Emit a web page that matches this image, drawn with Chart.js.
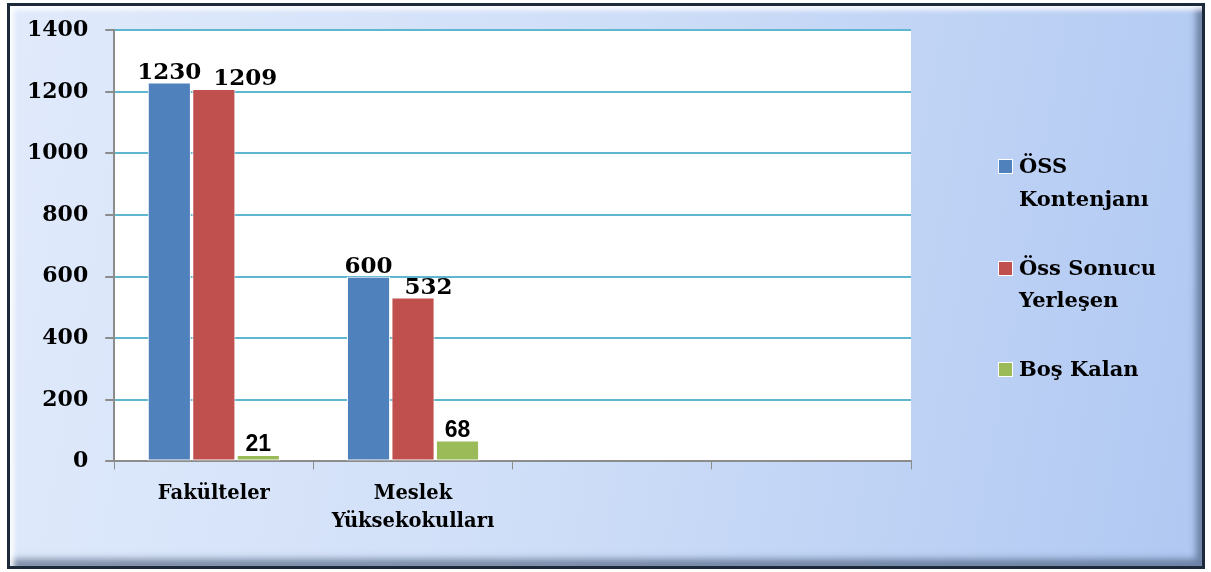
<!DOCTYPE html>
<html>
<head>
<meta charset="utf-8">
<script src="https://cdn.jsdelivr.net/npm/chart.js@4.4.0/dist/chart.umd.min.js"></script>
<style>
  html, body { margin: 0; padding: 0; background: #ffffff; }
  #wrap { position: relative; width: 1211px; height: 572px; overflow: hidden; }
  #frame {
    position: absolute; left: 7px; top: 3px; width: 1198px; height: 566px;
    box-sizing: border-box; border: 3px solid #1c2a3c;
    background: linear-gradient(100deg, #e0eafb 0%, #d0dff8 45%, #b0c8f2 100%);
    box-shadow: inset 4px 4px 5px rgba(255,255,255,0.9), inset -6px -7px 7px rgba(50,70,100,0.55);
  }
  #grafico { position: absolute; left: 0; top: 0; }
</style>
</head>
<body>
<div id="wrap">
  <div id="frame"></div>
  <canvas id="grafico" width="1211" height="572"></canvas>
</div>
<script>
// kategoriler ve seriler
var kategoriler = ['Fakülteler', ['Meslek', 'Yüksekokulları'], '', ''];
var ossKontenjani = [1230, 600, null, null];
var ossYerlesen = [1209, 532, null, null];
var bosKalan = [21, 68, null, null];
var seriAdlari = [['ÖSS', 'Kontenjanı'], ['Öss Sonucu', 'Yerleşen'], ['Boş Kalan']];
var renkler = ['#4f81bd', '#c0504d', '#9bbb59'];

var serifFont = '"DejaVu Serif", serif';

// beyaz cizim alani
var arkaPlan = {
    id: 'arkaPlan',
    beforeDraw: function (chart) {
        var a = chart.chartArea, c = chart.ctx;
        c.save();
        c.fillStyle = '#ffffff';
        c.fillRect(a.left, a.top, a.right - a.left, a.bottom - a.top);
        c.restore();
    }
};

// cubuk ustu degerler
var degerler = {
    id: 'degerler',
    afterDatasetsDraw: function (chart) {
        var c = chart.ctx;
        c.save();
        c.fillStyle = '#000000';
        c.textBaseline = 'alphabetic';
        var sagKenar = [];
        chart.data.datasets.forEach(function (ds, i) {
            var meta = chart.getDatasetMeta(i);
            meta.data.forEach(function (bar, j) {
                var v = ds.data[j];
                if (v === null) return;
                var txt = String(v);
                c.font = (i === 2) ? 'bold 23px "Liberation Sans", sans-serif' : 'bold 23px ' + serifFont;
                var w = c.measureText(txt).width;
                var left = bar.x - w / 2;
                if (i === 1 && sagKenar[j] !== undefined) left = Math.max(left, sagKenar[j] + 12);
                if (i === 0) sagKenar[j] = left + w;
                c.textAlign = 'left';
                c.fillText(txt, left, bar.y - 4);
            });
        });
        c.restore();
    }
};

// sagdaki lejant
var lejant = {
    id: 'lejant',
    afterDraw: function (chart) {
        var c = chart.ctx;
        var satirlar = [[167, 200], [269, 301], [370]];
        c.save();
        c.font = 'bold 21px ' + serifFont;
        c.textBaseline = 'middle';
        c.textAlign = 'left';
        seriAdlari.forEach(function (ad, i) {
            var y0 = satirlar[i][0];
            c.fillStyle = '#ffffff';
            c.fillRect(998, y0 - 8, 15, 15);
            c.fillStyle = renkler[i];
            c.fillRect(999, y0 - 7, 13, 13);
            c.fillStyle = '#000000';
            ad.forEach(function (t, k) {
                c.fillText(t, 1019, satirlar[i][k] + 1);
            });
        });
        c.restore();
    }
};

var ctx = document.getElementById('grafico').getContext('2d');
var grafico = new Chart(ctx, {
    type: 'bar',
    data: {
        labels: kategoriler,
        datasets: [
            { label: 'ÖSS Kontenjanı', data: ossKontenjani, backgroundColor: renkler[0] },
            { label: 'Öss Sonucu Yerleşen', data: ossYerlesen, backgroundColor: renkler[1] },
            { label: 'Boş Kalan', data: bosKalan, backgroundColor: renkler[2] }
        ]
    },
    options: {
        responsive: false,
        animation: false,
        datasets: {
            bar: {
                categoryPercentage: 0.67,
                barPercentage: 0.97,
                borderColor: '#ffffff',
                borderWidth: 1,
                borderSkipped: false
            }
        },
        layout: {
            padding: { left: 10, right: 300, top: 17, bottom: 26 }
        },
        plugins: {
            legend: { display: false },
            tooltip: { enabled: false }
        },
        scales: {
            x: {
                grid: {
                    display: true,
                    offset: true,
                    drawOnChartArea: false,
                    color: '#8c8c8c',
                    tickLength: 8
                },
                border: { color: '#8c8c8c', width: 2 },
                ticks: {
                    color: '#000000',
                    padding: 10,
                    maxRotation: 0,
                    font: { family: serifFont, size: 19.5, weight: 'bold', lineHeight: 1.45 }
                }
            },
            y: {
                min: 0,
                max: 1400,
                ticks: {
                    stepSize: 200,
                    color: '#000000',
                    padding: 17,
                    font: { family: serifFont, size: 22, weight: 'bold' },
                    callback: function (v) { return String(v); }
                },
                grid: {
                    color: '#5fb6cf',
                    lineWidth: 2,
                    tickColor: '#8c8c8c',
                    tickLength: 9
                },
                border: { color: '#8c8c8c', width: 2 }
            }
        }
    },
    plugins: [arkaPlan, degerler, lejant]
});
</script>
</body>
</html>
